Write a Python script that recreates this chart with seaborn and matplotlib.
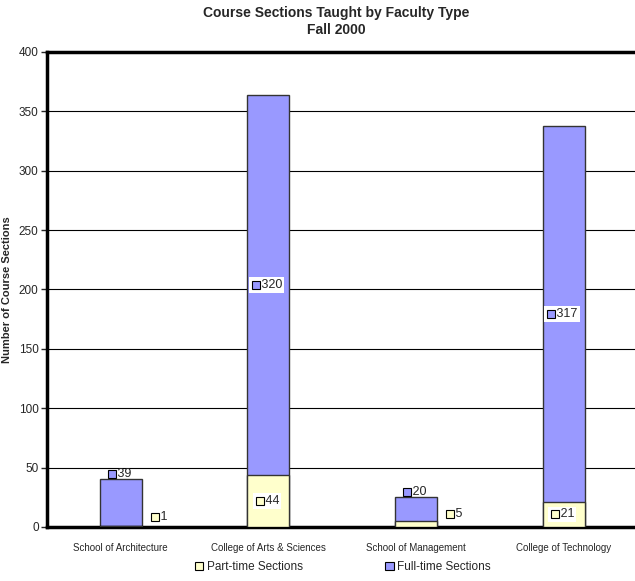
import pandas as pd
import matplotlib.pyplot as plt
import seaborn as sns
from matplotlib.patches import Patch
from matplotlib.transforms import offset_copy

schools = ['School of Architecture', 'College of Arts & Sciences',
           'School of Management', 'College of Technology']
part_time = [1, 44, 5, 21]
full_time = [39, 320, 20, 317]

part_color = '#FFFFCC'
full_color = '#9999FF'

df = pd.DataFrame({'school': schools, 'part': part_time, 'full': full_time})
df['total'] = df['part'] + df['full']

sns.set_style('white')
plt.rcParams['font.family'] = ['Liberation Sans', 'DejaVu Sans']

fig = plt.figure(figsize=(6.35, 5.81), dpi=100)
ax = fig.add_axes([0.074, 0.093, 0.93, 0.8175])

# stacked: full-time drawn as total, part-time over the bottom
sns.barplot(data=df, x='school', y='total', color=full_color, width=0.285,
            edgecolor='#333333', linewidth=1, saturation=1, ax=ax, zorder=2)
sns.barplot(data=df, x='school', y='part', color=part_color, width=0.285,
            edgecolor='#333333', linewidth=1, saturation=1, ax=ax, zorder=3)

ax.set_ylim(0, 400)
ax.set_xlim(-0.5, 3.5)
ax.set_yticks(range(0, 401, 50))
ax.yaxis.grid(True, color='black', linewidth=0.8)
ax.set_axisbelow(True)
for s in ['left', 'bottom', 'top']:
    ax.spines[s].set_linewidth(2.5)
    ax.spines[s].set_color('black')
ax.spines['right'].set_visible(False)
ax.tick_params(axis='y', left=True, length=4, width=1, labelsize=8.5, pad=2)
ax.tick_params(axis='x', bottom=False, labelsize=7, pad=8)
ax.set_xlabel('')
ax.set_ylabel('Number of Course Sections', fontsize=8, fontweight='bold')
ax.yaxis.set_label_coords(-0.059, 0.5)


def label(x, y, val, color, boxed=True):
    txt = str(val)
    w = 10 + 6.9 * len(txt)
    left = -w / 2
    tr_t = offset_copy(ax.transData, fig=fig, x=left - 2, y=0, units='dots')
    box = dict(boxstyle='square,pad=0.15', fc='white', ec='none') if boxed else None
    ax.text(x, y, '   ' + txt, transform=tr_t, ha='left', va='center', fontsize=9,
            zorder=5, bbox=box)
    tr_m = offset_copy(ax.transData, fig=fig, x=left + 3, y=0, units='dots')
    ax.plot([x], [y], marker='s', ms=5.5, mfc=color, mec='black', mew=0.8,
            transform=tr_m, zorder=6, clip_on=False)


for i, row in df.iterrows():
    # part-time label
    if row['part'] >= 15:
        label(i, row['part'] / 2, row['part'], part_color)
    else:
        label(i + 0.27, 8 + row['part'] / 2, row['part'], part_color, boxed=False)
    # full-time label
    if row['full'] >= 50:
        label(i, row['part'] + row['full'] / 2, row['full'], full_color)
    else:
        label(i, row['total'] + 4.5, row['full'], full_color, boxed=False)

fig.suptitle('Course Sections Taught by Faculty Type\nFall 2000', x=0.53, y=0.99,
             fontsize=10, fontweight='bold', linespacing=1.3)

handles = [Patch(fc=part_color, ec='black', lw=0.8),
           Patch(fc=full_color, ec='black', lw=0.8)]
fig.legend(handles, ['Part-time Sections', 'Full-time Sections'], loc='lower center',
           bbox_to_anchor=(0.54, -0.005), ncol=2, frameon=False, fontsize=8.5,
           handlelength=0.7, handleheight=0.7, handletextpad=0.3, columnspacing=7)

fig.savefig('out.png', dpi=100)
